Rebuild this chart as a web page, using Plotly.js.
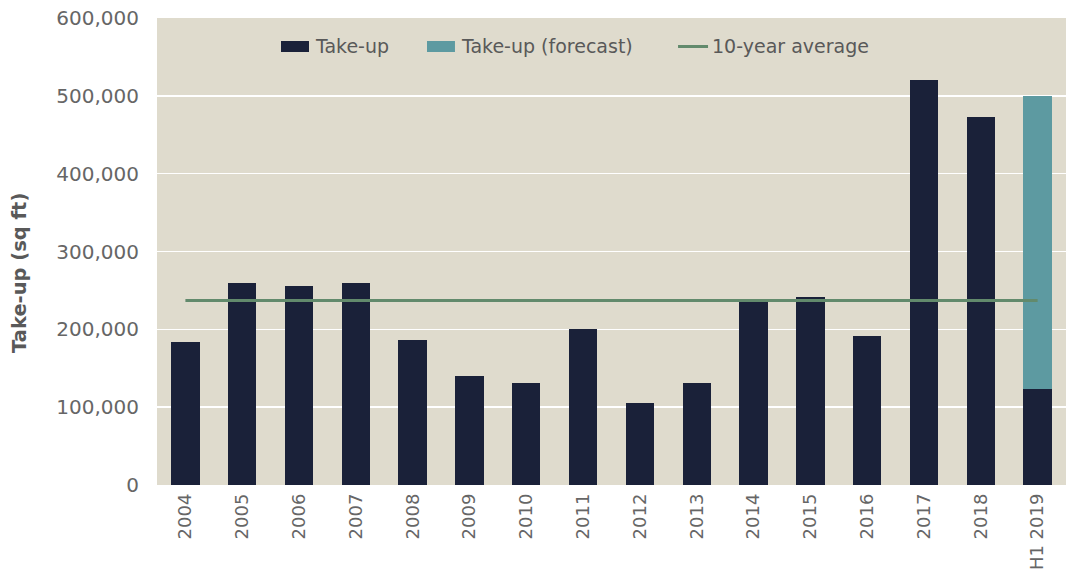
<!DOCTYPE html>
<html>
<head>
<meta charset="utf-8">
<script src="https://cdn.plot.ly/plotly-3.0.1.min.js"></script>
<style>html,body{margin:0;padding:0;background:#fff;}#chart{width:1066px;height:573px;}</style>
</head>
<body>
<div id="chart"></div>
<script>
const categories = ["2004","2005","2006","2007","2008","2009","2010","2011","2012","2013","2014","2015","2016","2017","2018","H1 2019"];
const takeUp = [184000,260000,256000,259000,186000,140500,131500,201000,105000,130500,235000,241000,191000,520000,472500,123000];
const takeUpForecast = [null,null,null,null,null,null,null,null,null,null,null,null,null,null,null,377000];
const tenYearAverage = [237000,237000,237000,237000,237000,237000,237000,237000,237000,237000,237000,237000,237000,237000,237000,237000];
const legendLabels = ["Take-up","Take-up (forecast)","10-year average"];
const yTitle = "Take-up (sq ft)";

const font = "'DejaVu Sans', sans-serif";
const colTake = '#1a2139', colFore = '#5d9aa1', colAvg = '#628a6c';
const traces = [
  {type:'bar', name:legendLabels[0], x:categories, y:takeUp, marker:{color:colTake}, width:0.5},
  {type:'bar', name:legendLabels[1], x:categories, y:takeUpForecast, marker:{color:colFore}, width:0.5},
  {type:'scatter', mode:'lines', name:legendLabels[2], x:categories, y:tenYearAverage, line:{color:colAvg, width:3}}
];
const legFont = {family:font, size:19, color:'#595959'};
const ly = 0.939;
const layout = {
  width:1066, height:573,
  margin:{l:157, r:0, t:18, b:88},
  paper_bgcolor:'#ffffff', plot_bgcolor:'#dfdbcd',
  barmode:'stack',
  showlegend:false,
  xaxis:{type:'category', tickangle:-90, tickfont:{family:font, size:18, color:'#666666'},
    showgrid:false, zeroline:false, showline:false, ticks:'', ticklabelstandoff:4, fixedrange:true},
  yaxis:{range:[0,600000], dtick:100000, tickformat:',', tickfont:{family:font, size:20, color:'#666666'},
    showgrid:true, gridcolor:'#ffffff', gridwidth:1.5, zeroline:false, showline:false, ticks:'', ticklabelstandoff:17,
    fixedrange:true},
  shapes:[
    {type:'rect', xref:'paper', yref:'paper', x0:0.1364, x1:0.1672, y0:0.9272, y1:0.9507, fillcolor:colTake, line:{width:0}},
    {type:'rect', xref:'paper', yref:'paper', x0:0.2970, x1:0.3278, y0:0.9272, y1:0.9507, fillcolor:colFore, line:{width:0}},
    {type:'line', xref:'paper', yref:'paper', x0:0.5732, x1:0.6062, y0:ly, y1:ly, line:{color:colAvg, width:3}}
  ],
  annotations:[
    {xref:'paper', yref:'paper', x:0.1716, y:ly, xanchor:'left', yanchor:'middle', text:legendLabels[0], showarrow:false, font:legFont},
    {xref:'paper', yref:'paper', x:0.3322, y:ly, xanchor:'left', yanchor:'middle', text:legendLabels[1], showarrow:false, font:legFont},
    {xref:'paper', yref:'paper', x:0.6084, y:ly, xanchor:'left', yanchor:'middle', text:legendLabels[2], showarrow:false, font:legFont},
    {xref:'paper', yref:'paper', x:-0.1507, y:0.454, xanchor:'center', yanchor:'middle', textangle:-90,
      text:'<b>'+yTitle+'</b>', showarrow:false, font:{family:font, size:19.5, color:'#595959'}}
  ]
};
Plotly.newPlot('chart', traces, layout, {displayModeBar:false, staticPlot:true});
</script>
</body>
</html>
